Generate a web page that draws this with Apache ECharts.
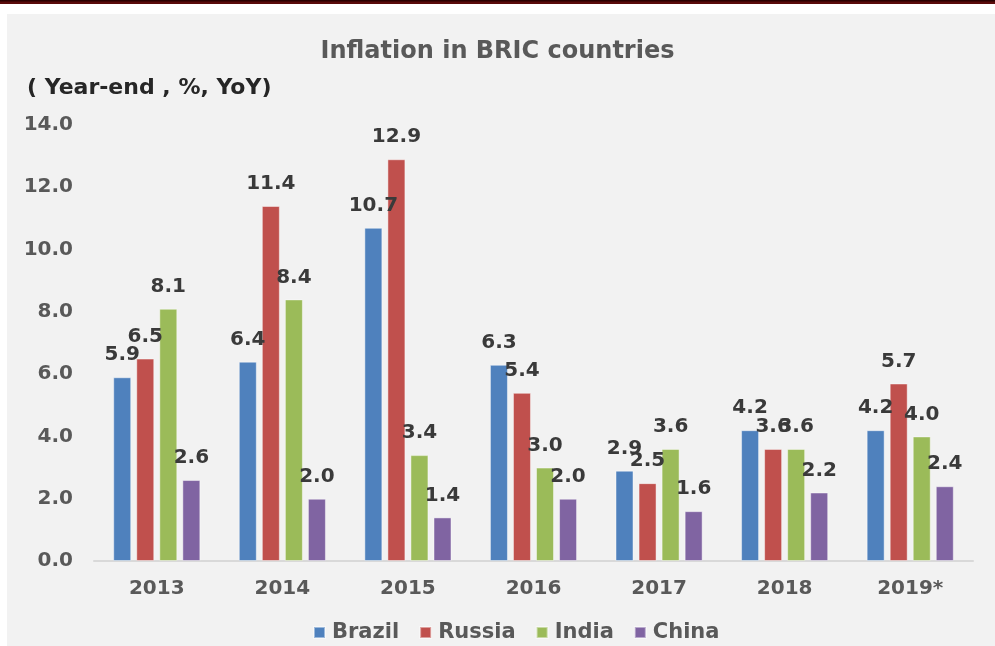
<!DOCTYPE html>
<html>
<head>
<meta charset="utf-8">
<script src="https://cdn.jsdelivr.net/npm/echarts@6/dist/echarts.min.js"></script>
<style>
html,body{margin:0;padding:0;background:#fff;}
#c{width:995px;height:646px;}
</style>
</head>
<body>
<div id="c"></div>
<script>
var categories = ['2013', '2014', '2015', '2016', '2017', '2018', '2019*'];
var brazil = [5.9, 6.4, 10.7, 6.3, 2.9, 4.2, 4.2];
var russia = [6.5, 11.4, 12.9, 5.4, 2.5, 3.6, 5.7];
var india  = [8.1, 8.4, 3.4, 3.0, 3.6, 3.6, 4.0];
var china  = [2.6, 2.0, 1.4, 2.0, 1.6, 2.2, 2.4];
var seriesNames = ['Brazil', 'Russia', 'India', 'China'];
var yTicks = [0, 2, 4, 6, 8, 10, 12, 14];

var FONT = 'DejaVu Sans';
var colors = ['#4F81BD', '#C0504D', '#9BBB59', '#8064A2'];

var chart = echarts.init(document.getElementById('c'));

function makeSeries(name, data, color) {
  return {
    name: name,
    type: 'bar',
    data: data,
    barWidth: 18,
    barGap: '28%',
    itemStyle: { color: color, borderColor: 'rgba(255,255,255,0.45)', borderWidth: 1 },
    label: {
      show: true,
      position: 'top',
      distance: 12,
      formatter: function (p) { return p.value.toFixed(1); },
      fontFamily: FONT,
      fontWeight: 'bold',
      fontSize: 20,
      color: '#3a3a3a'
    }
  };
}

var option = {
  animation: false,
  backgroundColor: '#ffffff',
  graphic: [
    { type: 'rect', left: 7, top: 14, shape: { width: 988, height: 632 }, style: { fill: '#F2F2F2' }, z: -10, silent: true },
    { type: 'rect', left: 0, top: 0, shape: { width: 995, height: 4 }, style: { fill: '#5A0A0A' }, z: -10, silent: true },
    { type: 'rect', left: 0, top: 0, shape: { width: 995, height: 1.5 }, style: { fill: '#2a0000' }, z: -9, silent: true },
    {
      type: 'text', left: 27, top: 77,
      style: { text: '( Year-end , %, YoY)', fontFamily: FONT, fontWeight: 'bold', fontSize: 22, fill: '#262626' }
    }
  ],
  title: {
    text: 'Inflation in BRIC countries',
    left: 'center',
    top: 35,
    textStyle: { fontFamily: FONT, fontWeight: 'bold', fontSize: 24, color: '#595959' }
  },
  legend: {
    data: seriesNames,
    top: 617,
    left: 308,
    itemWidth: 11,
    itemHeight: 11,
    itemGap: 20,
    icon: 'rect',
    textStyle: { fontFamily: FONT, fontWeight: 'bold', fontSize: 21, color: '#595959', padding: [0, 0, 0, 2] }
  },
  grid: { left: 94, right: 22, top: 125, bottom: 85 },
  xAxis: {
    type: 'category',
    data: categories,
    axisLine: { lineStyle: { color: '#D9D9D9', width: 2 } },
    axisTick: { show: false },
    axisLabel: { fontFamily: FONT, fontWeight: 'bold', fontSize: 20, color: '#595959', margin: 18 }
  },
  yAxis: {
    type: 'value',
    min: yTicks[0],
    max: yTicks[yTicks.length - 1],
    interval: 2,
    axisLine: { show: false },
    axisTick: { show: false },
    splitLine: { show: false },
    axisLabel: {
      fontFamily: FONT, fontWeight: 'bold', fontSize: 20, color: '#595959', margin: 21,
      formatter: function (v) { return v.toFixed(1); }
    }
  },
  series: [
    makeSeries(seriesNames[0], brazil, colors[0]),
    makeSeries(seriesNames[1], russia, colors[1]),
    makeSeries(seriesNames[2], india, colors[2]),
    makeSeries(seriesNames[3], china, colors[3])
  ]
};
chart.setOption(option);
</script>
</body>
</html>
